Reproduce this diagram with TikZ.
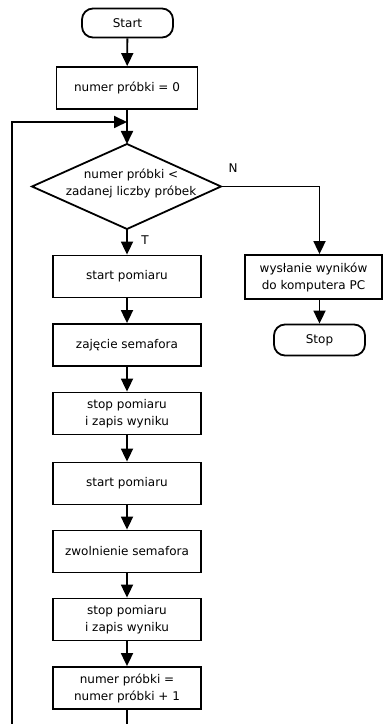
\documentclass[tikz,border=0pt]{standalone}
\usepackage{fontspec}
\setmainfont{DejaVu Sans}
\usetikzlibrary{arrows.meta}

\begin{document}
\begin{tikzpicture}[x=1pt, y=1pt, line width=1.8pt,
  txt/.style={font=\fontsize{12}{17}\selectfont, align=center, inner sep=2pt},
  box/.style={txt, draw, minimum width=148pt, minimum height=42pt},
  term/.style={txt, draw, rounded corners=11pt, minimum width=91pt, minimum height=29pt},
  flow/.style={-{Triangle[width=12pt,length=13pt]}}]
\useasboundingbox (0,0) rectangle (388,724);
\clip (0,0) rectangle (388,724);

\node[term] (start) at (127.5, 701) {Start};
\node[box, minimum width=141pt] (init) at (127, 636) {numer próbki = 0};

% warunek
\node[txt] (cond) at (131, 541) {numer próbki <\\zadanej liczby próbek};
\draw (127, 580) coordinate (cn) -- (221, 537.5) coordinate (ce)
  -- (127, 495) coordinate (cs) -- (32, 537.5) coordinate (cw) -- cycle;
\node[txt] (nlab) at (233, 556) {N};
\node[txt] (tlab) at (145, 484) {T};

\node[box] (meas1) at (127, 447.5) {start pomiaru};
\node[box] (take) at (127, 379) {zajęcie semafora};
\node[box] (save1) at (127, 310.5) {stop pomiaru\\i zapis wyniku};
\node[box] (meas2) at (127, 240.5) {start pomiaru};
\node[box] (free) at (127, 172.5) {zwolnienie semafora};
\node[box] (save2) at (127, 104.5) {stop pomiaru\\i zapis wyniku};
\node[box] (inc) at (127, 36) {numer próbki =\\numer próbki + 1};

\node[box, minimum width=137pt, minimum height=44pt] (send) at (313.5, 447) {wysłanie wyników\\do komputera PC};
\node[term, minimum height=31pt] (stop) at (319.5, 384) {Stop};

\coordinate (join) at (127, 602);

\draw[flow] (start) -- (init);
\draw[flow] (init) -- (cn);
\draw[flow] (cs) -- (meas1);
\draw[flow] (meas1) -- (take);
\draw[flow] (take) -- (save1);
\draw[flow] (save1) -- (meas2);
\draw[flow] (meas2) -- (free);
\draw[flow] (free) -- (save2);
\draw[flow] (save2) -- (inc);
\draw[flow] (inc.south) |- (12, -8) -- (12, 602) -- (join);
\draw[flow] (ce) -| (send.north -| stop);
\draw[flow] (send.south -| stop) -- (stop);

\end{tikzpicture}
\end{document}
